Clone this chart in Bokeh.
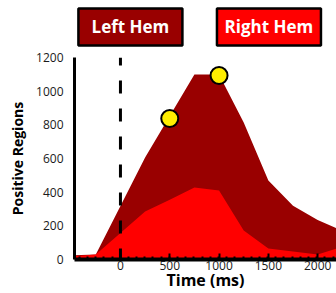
from bokeh.plotting import figure
from bokeh.layouts import column
from bokeh.models import Span, FixedTicker
from bokeh.core.properties import value
from bokeh.embed import file_html
from bokeh.resources import INLINE

# data
times = [-500, -250, 250, 500, 750, 1000, 1250, 1500, 1750, 2000, 2250]
left_hem = [24, 30, 606, 852, 1099, 1099, 814, 469, 320, 235, 170]
right_hem = [18, 30, 285, 355, 428, 410, 172, 65, 48, 30, 76]
marker_times = [500, 1000]
marker_vals = [838, 1093]
x_ticks = [0, 500, 1000, 1500, 2000]
y_ticks = [0, 200, 400, 600, 800, 1000, 1200]
legend_names = ["Left Hem", "Right Hem"]
legend_x = [101, 1506]

DARK = "#990000"
RED = "#FF0000"
FONT = "Open Sans"
XR = (-466, 2191)

# legend strip
top = figure(width=336, height=49, output_backend="svg", toolbar_location=None,
             x_range=XR, y_range=(0, 1),
             min_border_left=74, min_border_right=0, min_border_top=0, min_border_bottom=0)
top.axis.visible = False
top.grid.visible = False
top.outline_line_color = None
top.rect(x=legend_x, y=0.46, width=104, height=37, width_units="screen",
         height_units="screen", fill_color=[DARK, RED], line_color="black", line_width=2.5)
top.text(x=legend_x, y=0.46, text=legend_names, text_align="center",
         text_baseline="middle", text_color="white", text_font=value(FONT),
         text_font_style="bold", text_font_size="17px")

p = figure(width=336, height=244, output_backend="svg", toolbar_location=None,
           x_range=XR, y_range=(0, 1200),
           min_border_left=74, min_border_top=8, min_border_right=0, min_border_bottom=34)
p.outline_line_color = None
p.grid.visible = False

p.varea(x=times, y1=0, y2=left_hem, fill_color=DARK)
p.varea(x=times, y1=0, y2=right_hem, fill_color=RED)

p.add_layout(Span(location=0, dimension="height", line_color="black",
                  line_width=3, line_dash="13 15", line_dash_offset=5))

p.scatter(marker_times, marker_vals, size=17, fill_color="#FFEE00",
          line_color="black", line_width=2)

# axes
p.xaxis.ticker = FixedTicker(ticks=x_ticks,
                             minor_ticks=list(range(-500, 2300, 83)))
p.yaxis.ticker = FixedTicker(ticks=y_ticks)
p.xaxis.axis_line_width = 4
p.yaxis.axis_line_width = 3
p.xaxis.major_tick_in = 6
p.xaxis.major_tick_out = 0
p.xaxis.minor_tick_in = 3
p.xaxis.minor_tick_out = 0
p.xaxis.major_tick_line_width = 2
p.xaxis.minor_tick_line_width = 2
p.yaxis.major_tick_line_color = None
p.yaxis.minor_tick_line_color = None
for ax in (p.xaxis, p.yaxis):
    ax.major_label_text_font = FONT
    ax.major_label_text_font_size = "12px"
    ax.major_label_text_color = "#1a1a1a"
    ax.axis_label_text_font = FONT
    ax.axis_label_text_font_style = "bold"
    ax.axis_label_text_color = "black"
p.xaxis.major_label_standoff = 1
p.yaxis.major_label_standoff = 5
p.xaxis.axis_label = "Time (ms)"
p.xaxis.axis_label_text_font_size = "16px"
p.xaxis.axis_label_standoff = -4
p.yaxis.axis_label = "Positive Regions"
p.yaxis.axis_label_text_font_size = "14px"
p.yaxis.axis_label_standoff = 6

layout = column(top, p, spacing=0)
open("out.html", "w").write(file_html(layout, INLINE))
